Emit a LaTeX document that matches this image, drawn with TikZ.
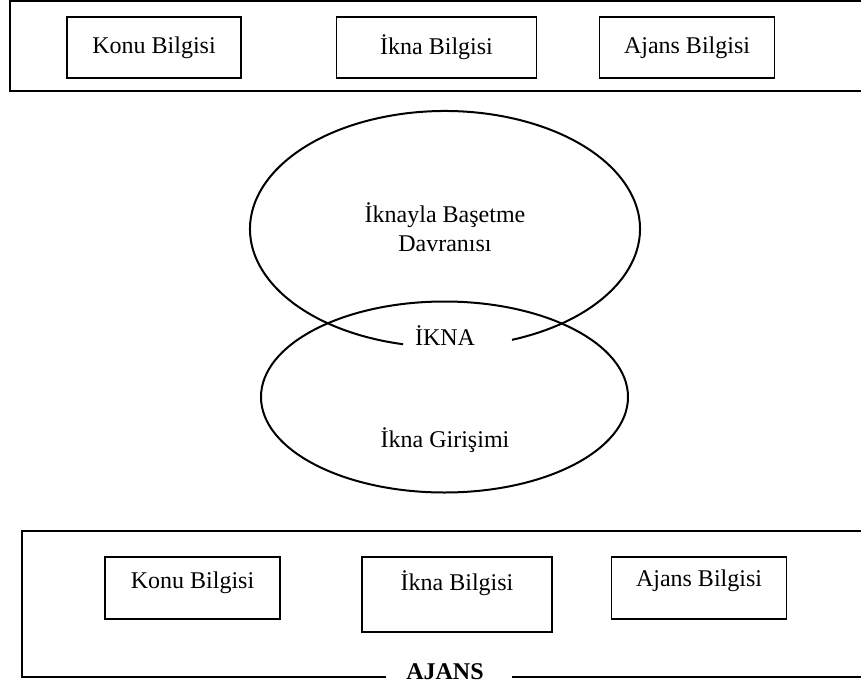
\documentclass[tikz,border=0pt]{standalone}
\usepackage{fontspec}
\setmainfont{Liberation Serif}
\begin{document}
\begin{tikzpicture}[x=1pt,y=1pt,
  outer/.style={line width=2.2pt},
  box/.style={draw,line width=1.6pt,inner sep=0pt},
  lbl/.style={inner sep=0pt,font=\fontsize{24}{28.8}\selectfont},
  oval/.style={line width=2pt}]
\useasboundingbox (0,0) rectangle (861,-693);
% top frame
\draw[outer] (870,-1) -- (10,-1) -- (10,-91) -- (870,-91);
\node[box,minimum width=174pt,minimum height=61pt] (tk) at (154,-47.5) {};
\node[lbl] (tkt) at (tk) {Konu Bilgisi};
\node[box,minimum width=200pt,minimum height=61pt] (ti) at (436.5,-47.5) {};
\node[lbl] (tit) at (ti) {İkna Bilgisi};
\node[box,minimum width=175pt,minimum height=61pt] (ta) at (687,-47.5) {};
\node[lbl] (tat) at (ta) {Ajans Bilgisi};
% ellipses
\draw[oval] (445,-229) ++(290.1:195 and 118) arc[start angle=290.1,end angle=617.6,x radius=195,y radius=118];
\draw[oval] (444.5,-397) ellipse[x radius=183.5,y radius=95.5];
\node[lbl,align=center] (e1) at (445,-227) {İknayla Başetme\\Davranısı};
\node[lbl] (ikna) at (445,-336) {İKNA};
\node[lbl] (e2) at (445,-440) {İkna Girişimi};
% bottom frame
\draw[outer] (386,-677) -- (22,-677) -- (22,-531) -- (870,-531);
\draw[outer] (512,-677) -- (870,-677);
\node[lbl,font=\fontsize{24}{28.8}\selectfont\bfseries] (ajans) at (445,-672) {AJANS};
\node[box,minimum width=175pt,minimum height=62pt] (bk) at (192.5,-588) {};
\node[lbl] (bkt) at (192.5,-583) {Konu Bilgisi};
\node[box,minimum width=190pt,minimum height=75pt] (bi) at (457,-594.5) {};
\node[lbl] (bit) at (457,-583) {İkna Bilgisi};
\node[box,minimum width=175pt,minimum height=62pt] (ba) at (699,-588) {};
\node[lbl] (bat) at (699,-581) {Ajans Bilgisi};
\end{tikzpicture}
\end{document}
